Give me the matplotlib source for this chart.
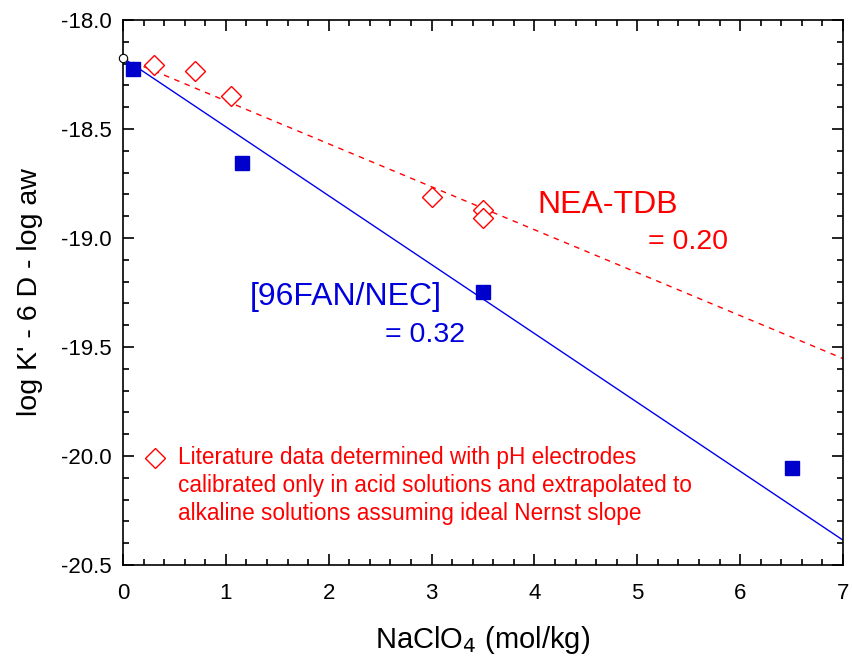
import matplotlib
matplotlib.use("Agg")
import matplotlib.pyplot as plt
from matplotlib.ticker import MultipleLocator
import numpy as np

# Measured data
fan_x = [0.1, 1.16, 3.5, 6.5]
fan_y = [-18.225, -18.655, -19.25, -20.055]
lit_x = [0.3, 0.7, 1.05, 3.0, 3.5, 3.5]
lit_y = [-18.205, -18.235, -18.35, -18.81, -18.87, -18.91]

# Extrapolated value at zero ionic strength and fitted slopes
intercept = -18.174
fan_slope = -0.316
nea_slope = -0.197

xticks = [0, 1, 2, 3, 4, 5, 6, 7]
yticks = [-18.0, -18.5, -19.0, -19.5, -20.0, -20.5]

plt.rcParams['font.family'] = ['Liberation Sans', 'DejaVu Sans']

fig = plt.figure(figsize=(8.53, 6.66), dpi=100)
ax = fig.add_axes([123/853, 1-565/666, 720/853, 545/666])

xl = np.array([0, 7])
ax.plot(xl, intercept + fan_slope*xl, color='#0000ee', lw=1.0, zorder=2)
ax.plot(xl, intercept + nea_slope*xl, color='red', lw=1.0, ls=(0, (4, 4)), zorder=2)

ax.plot(fan_x, fan_y, ls='none', marker='s', ms=9.5, color='#0000cc', zorder=3)
ax.plot(lit_x, lit_y, ls='none', marker='D', ms=10, mfc='white', mec='red', mew=1.0, zorder=3)
ax.plot([0], [intercept], ls='none', marker='o', ms=6, mfc='white', mec='black', mew=0.8,
        zorder=4, clip_on=False)

ax.set_xlim(0, 7)
ax.set_ylim(-20.5, -18.0)
ax.set_xticks(xticks)
ax.set_yticks(yticks)
ax.set_xticklabels([str(t) for t in xticks])
ax.set_yticklabels([f"{t:.1f}" for t in yticks])
ax.xaxis.set_minor_locator(MultipleLocator(0.2))
ax.yaxis.set_minor_locator(MultipleLocator(0.1))
ax.tick_params(which='both', direction='in', top=True, right=True, width=1.2)
ax.tick_params(which='major', length=8, labelsize=16, pad=8)
ax.tick_params(axis='x', which='major', pad=13)
ax.tick_params(which='minor', length=4)
for s in ax.spines.values():
    s.set_linewidth(1.2)

ax.set_xlabel(r"NaClO$_4$ (mol/kg)", fontsize=21, labelpad=14)
ax.set_ylabel("log K' - 6 D - log aw", fontsize=20.5, labelpad=13)

ax.text(4.03, -18.85, "NEA-TDB", color='red', fontsize=23, ha='left', va='center')
ax.text(5.10, -19.02, "= 0.20", color='red', fontsize=20.5, ha='left', va='center')
ax.text(1.235, -19.27, "[96FAN/NEC]", color='#0000dd', fontsize=23, ha='left', va='center')
ax.text(2.55, -19.445, "= 0.32", color='#0000dd', fontsize=20.5, ha='left', va='center')

ax.plot([0.31], [-20.01], ls='none', marker='D', ms=10, mfc='white', mec='red', mew=1.0)
ax.text(0.535, -20.135,
        "Literature data determined with pH electrodes\n"
        "calibrated only in acid solutions and extrapolated to\n"
        "alkaline solutions assuming ideal Nernst slope",
        color='red', fontsize=16.3, ha='left', va='center', linespacing=1.28)

fig.savefig("out.png", dpi=100)
